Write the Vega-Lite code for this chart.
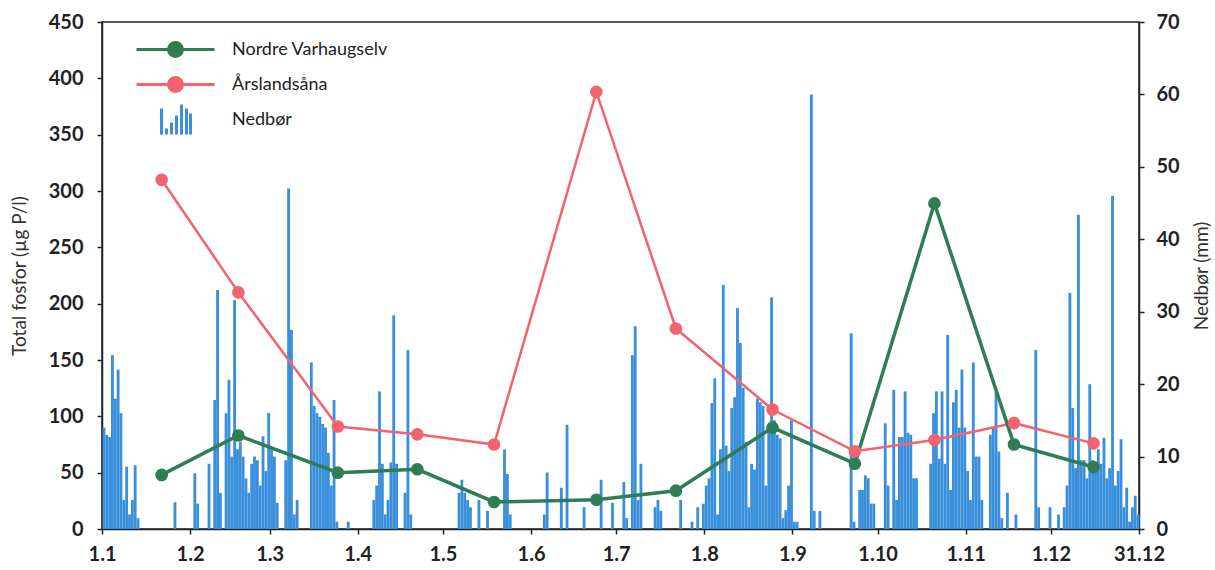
{
  "$schema": "https://vega.github.io/schema/vega-lite/v6.json",
  "width": 1037,
  "height": 507,
  "autosize": {"type": "none"},
  "padding": {"left": 102, "top": 22, "right": 76, "bottom": 41},
  "background": "white",
  "config": {
    "font": "Lato",
    "view": {"stroke": "#222", "strokeWidth": 1.5},
    "axis": {
      "grid": false,
      "domainColor": "#222",
      "domainWidth": 1.5,
      "tickColor": "#222",
      "tickWidth": 1.5,
      "tickSize": 5,
      "labelFont": "Lato",
      "labelFontSize": 20,
      "labelFontWeight": "bold",
      "labelColor": "#222",
      "titleFont": "Lato",
      "titleFontSize": 19,
      "titleFontWeight": "normal",
      "titleColor": "#333"
    },
    "legend": {
      "orient": "none",
      "legendX": 62,
      "legendY": 16,
      "title": null,
      "labelFont": "Lato",
      "labelFontSize": 18,
      "labelColor": "#222",
      "symbolSize": 400,
      "symbolStrokeWidth": 3,
      "labelOffset": 45,
      "rowPadding": -8
    }
  },
  "datasets": {
    "nedbor": [
      {"dato": "2023-01-01", "mm": 14}, {"dato": "2023-01-02", "mm": 13}, {"dato": "2023-01-03", "mm": 12.7},
      {"dato": "2023-01-04", "mm": 24}, {"dato": "2023-01-05", "mm": 18}, {"dato": "2023-01-06", "mm": 22},
      {"dato": "2023-01-07", "mm": 16}, {"dato": "2023-01-08", "mm": 4}, {"dato": "2023-01-09", "mm": 8.6},
      {"dato": "2023-01-10", "mm": 2}, {"dato": "2023-01-11", "mm": 4}, {"dato": "2023-01-12", "mm": 8.8},
      {"dato": "2023-01-13", "mm": 1.5}, {"dato": "2023-01-26", "mm": 3.7},
      {"dato": "2023-02-02", "mm": 7.7}, {"dato": "2023-02-03", "mm": 3.5}, {"dato": "2023-02-07", "mm": 9},
      {"dato": "2023-02-09", "mm": 17.8}, {"dato": "2023-02-10", "mm": 33}, {"dato": "2023-02-11", "mm": 5},
      {"dato": "2023-02-13", "mm": 16}, {"dato": "2023-02-14", "mm": 20.6}, {"dato": "2023-02-15", "mm": 10},
      {"dato": "2023-02-16", "mm": 31.6}, {"dato": "2023-02-17", "mm": 11}, {"dato": "2023-02-18", "mm": 12},
      {"dato": "2023-02-19", "mm": 10}, {"dato": "2023-02-20", "mm": 7}, {"dato": "2023-02-21", "mm": 5},
      {"dato": "2023-02-22", "mm": 9}, {"dato": "2023-02-23", "mm": 10}, {"dato": "2023-02-24", "mm": 9.5},
      {"dato": "2023-02-25", "mm": 6}, {"dato": "2023-02-26", "mm": 12.8}, {"dato": "2023-02-27", "mm": 8},
      {"dato": "2023-02-28", "mm": 16}, {"dato": "2023-03-01", "mm": 11}, {"dato": "2023-03-02", "mm": 10},
      {"dato": "2023-03-03", "mm": 3.6}, {"dato": "2023-03-06", "mm": 9.5}, {"dato": "2023-03-07", "mm": 47},
      {"dato": "2023-03-08", "mm": 27.5}, {"dato": "2023-03-09", "mm": 2}, {"dato": "2023-03-10", "mm": 4},
      {"dato": "2023-03-15", "mm": 23}, {"dato": "2023-03-16", "mm": 17}, {"dato": "2023-03-17", "mm": 16},
      {"dato": "2023-03-18", "mm": 15.5}, {"dato": "2023-03-19", "mm": 14.5}, {"dato": "2023-03-20", "mm": 14},
      {"dato": "2023-03-21", "mm": 10.5}, {"dato": "2023-03-22", "mm": 6}, {"dato": "2023-03-23", "mm": 17.8},
      {"dato": "2023-03-24", "mm": 1}, {"dato": "2023-03-28", "mm": 1},
      {"dato": "2023-04-06", "mm": 4}, {"dato": "2023-04-07", "mm": 6}, {"dato": "2023-04-08", "mm": 19},
      {"dato": "2023-04-09", "mm": 9}, {"dato": "2023-04-10", "mm": 2}, {"dato": "2023-04-11", "mm": 4},
      {"dato": "2023-04-12", "mm": 9.2}, {"dato": "2023-04-13", "mm": 29.5}, {"dato": "2023-04-14", "mm": 9},
      {"dato": "2023-04-17", "mm": 5}, {"dato": "2023-04-18", "mm": 24.7}, {"dato": "2023-04-19", "mm": 2},
      {"dato": "2023-05-06", "mm": 5}, {"dato": "2023-05-07", "mm": 6.8}, {"dato": "2023-05-08", "mm": 5},
      {"dato": "2023-05-09", "mm": 4}, {"dato": "2023-05-10", "mm": 3}, {"dato": "2023-05-13", "mm": 4},
      {"dato": "2023-05-16", "mm": 2.5}, {"dato": "2023-05-22", "mm": 11}, {"dato": "2023-05-23", "mm": 7.6},
      {"dato": "2023-05-24", "mm": 2},
      {"dato": "2023-06-05", "mm": 2}, {"dato": "2023-06-06", "mm": 7.8}, {"dato": "2023-06-11", "mm": 5.7},
      {"dato": "2023-06-13", "mm": 14.4}, {"dato": "2023-06-19", "mm": 3}, {"dato": "2023-06-25", "mm": 6.8},
      {"dato": "2023-06-29", "mm": 3.6},
      {"dato": "2023-07-03", "mm": 6.5}, {"dato": "2023-07-04", "mm": 1.5}, {"dato": "2023-07-06", "mm": 24},
      {"dato": "2023-07-07", "mm": 28}, {"dato": "2023-07-08", "mm": 4}, {"dato": "2023-07-09", "mm": 9},
      {"dato": "2023-07-14", "mm": 3}, {"dato": "2023-07-15", "mm": 4}, {"dato": "2023-07-16", "mm": 2.5},
      {"dato": "2023-07-23", "mm": 4}, {"dato": "2023-07-27", "mm": 1}, {"dato": "2023-07-29", "mm": 3},
      {"dato": "2023-07-31", "mm": 3.5},
      {"dato": "2023-08-01", "mm": 6}, {"dato": "2023-08-02", "mm": 7}, {"dato": "2023-08-03", "mm": 17.4},
      {"dato": "2023-08-04", "mm": 20.8}, {"dato": "2023-08-05", "mm": 2}, {"dato": "2023-08-06", "mm": 11},
      {"dato": "2023-08-07", "mm": 33.7}, {"dato": "2023-08-08", "mm": 11.5}, {"dato": "2023-08-09", "mm": 8},
      {"dato": "2023-08-10", "mm": 16.7}, {"dato": "2023-08-11", "mm": 18.2}, {"dato": "2023-08-12", "mm": 30.5},
      {"dato": "2023-08-13", "mm": 25.7}, {"dato": "2023-08-14", "mm": 19.5}, {"dato": "2023-08-15", "mm": 12},
      {"dato": "2023-08-16", "mm": 3}, {"dato": "2023-08-17", "mm": 9}, {"dato": "2023-08-18", "mm": 8.2},
      {"dato": "2023-08-19", "mm": 18}, {"dato": "2023-08-20", "mm": 17.5}, {"dato": "2023-08-21", "mm": 17},
      {"dato": "2023-08-22", "mm": 6}, {"dato": "2023-08-23", "mm": 14}, {"dato": "2023-08-24", "mm": 32},
      {"dato": "2023-08-25", "mm": 15}, {"dato": "2023-08-26", "mm": 13}, {"dato": "2023-08-27", "mm": 12.5},
      {"dato": "2023-08-28", "mm": 1.5}, {"dato": "2023-08-29", "mm": 2.6}, {"dato": "2023-08-30", "mm": 6},
      {"dato": "2023-08-31", "mm": 15},
      {"dato": "2023-09-01", "mm": 1}, {"dato": "2023-09-02", "mm": 1}, {"dato": "2023-09-07", "mm": 60},
      {"dato": "2023-09-08", "mm": 2.5}, {"dato": "2023-09-10", "mm": 2.5}, {"dato": "2023-09-21", "mm": 27},
      {"dato": "2023-09-22", "mm": 1}, {"dato": "2023-09-24", "mm": 5.4}, {"dato": "2023-09-25", "mm": 5.4},
      {"dato": "2023-09-26", "mm": 7.4}, {"dato": "2023-09-27", "mm": 7}, {"dato": "2023-09-28", "mm": 3.5},
      {"dato": "2023-09-29", "mm": 3.5},
      {"dato": "2023-10-03", "mm": 14.6}, {"dato": "2023-10-04", "mm": 6}, {"dato": "2023-10-06", "mm": 19.2},
      {"dato": "2023-10-07", "mm": 4}, {"dato": "2023-10-08", "mm": 12.7}, {"dato": "2023-10-09", "mm": 12.7},
      {"dato": "2023-10-10", "mm": 19}, {"dato": "2023-10-11", "mm": 13.3}, {"dato": "2023-10-12", "mm": 13},
      {"dato": "2023-10-13", "mm": 7}, {"dato": "2023-10-14", "mm": 7}, {"dato": "2023-10-19", "mm": 9},
      {"dato": "2023-10-20", "mm": 16}, {"dato": "2023-10-21", "mm": 19}, {"dato": "2023-10-22", "mm": 9.7},
      {"dato": "2023-10-23", "mm": 19}, {"dato": "2023-10-24", "mm": 9}, {"dato": "2023-10-25", "mm": 26.8},
      {"dato": "2023-10-26", "mm": 5.4}, {"dato": "2023-10-27", "mm": 17.5}, {"dato": "2023-10-28", "mm": 19.2},
      {"dato": "2023-10-29", "mm": 14}, {"dato": "2023-10-30", "mm": 22}, {"dato": "2023-10-31", "mm": 14},
      {"dato": "2023-11-01", "mm": 8}, {"dato": "2023-11-02", "mm": 4}, {"dato": "2023-11-03", "mm": 23},
      {"dato": "2023-11-04", "mm": 10}, {"dato": "2023-11-05", "mm": 10}, {"dato": "2023-11-06", "mm": 4},
      {"dato": "2023-11-09", "mm": 13}, {"dato": "2023-11-10", "mm": 14}, {"dato": "2023-11-11", "mm": 19},
      {"dato": "2023-11-12", "mm": 10.7}, {"dato": "2023-11-13", "mm": 1.5}, {"dato": "2023-11-15", "mm": 5},
      {"dato": "2023-11-18", "mm": 2}, {"dato": "2023-11-25", "mm": 24.7}, {"dato": "2023-11-26", "mm": 3},
      {"dato": "2023-11-30", "mm": 3},
      {"dato": "2023-12-03", "mm": 2}, {"dato": "2023-12-05", "mm": 3}, {"dato": "2023-12-06", "mm": 6},
      {"dato": "2023-12-07", "mm": 32.6}, {"dato": "2023-12-08", "mm": 16.7}, {"dato": "2023-12-09", "mm": 8.4},
      {"dato": "2023-12-10", "mm": 43.4}, {"dato": "2023-12-11", "mm": 9.5}, {"dato": "2023-12-12", "mm": 9.5},
      {"dato": "2023-12-13", "mm": 7}, {"dato": "2023-12-14", "mm": 20}, {"dato": "2023-12-15", "mm": 9.5},
      {"dato": "2023-12-16", "mm": 8}, {"dato": "2023-12-17", "mm": 11}, {"dato": "2023-12-18", "mm": 9},
      {"dato": "2023-12-19", "mm": 12.6}, {"dato": "2023-12-20", "mm": 7}, {"dato": "2023-12-21", "mm": 8.4},
      {"dato": "2023-12-22", "mm": 46}, {"dato": "2023-12-23", "mm": 6}, {"dato": "2023-12-24", "mm": 8},
      {"dato": "2023-12-25", "mm": 12.4}, {"dato": "2023-12-26", "mm": 3}, {"dato": "2023-12-27", "mm": 5.7},
      {"dato": "2023-12-28", "mm": 1}, {"dato": "2023-12-29", "mm": 3}, {"dato": "2023-12-30", "mm": 4.6},
      {"dato": "2023-12-31", "mm": 2}
    ],
    "fosfor": [
      {"dato": "2023-01-22", "stasjon": "Årslandsåna", "verdi": 310},
      {"dato": "2023-02-18", "stasjon": "Årslandsåna", "verdi": 210},
      {"dato": "2023-03-25", "stasjon": "Årslandsåna", "verdi": 91},
      {"dato": "2023-04-22", "stasjon": "Årslandsåna", "verdi": 84},
      {"dato": "2023-05-19", "stasjon": "Årslandsåna", "verdi": 75},
      {"dato": "2023-06-24", "stasjon": "Årslandsåna", "verdi": 388},
      {"dato": "2023-07-22", "stasjon": "Årslandsåna", "verdi": 178},
      {"dato": "2023-08-25", "stasjon": "Årslandsåna", "verdi": 106},
      {"dato": "2023-09-23", "stasjon": "Årslandsåna", "verdi": 69},
      {"dato": "2023-10-21", "stasjon": "Årslandsåna", "verdi": 79},
      {"dato": "2023-11-18", "stasjon": "Årslandsåna", "verdi": 94},
      {"dato": "2023-12-16", "stasjon": "Årslandsåna", "verdi": 76},
      {"dato": "2023-01-22", "stasjon": "Nordre Varhaugselv", "verdi": 48},
      {"dato": "2023-02-18", "stasjon": "Nordre Varhaugselv", "verdi": 83},
      {"dato": "2023-03-25", "stasjon": "Nordre Varhaugselv", "verdi": 50},
      {"dato": "2023-04-22", "stasjon": "Nordre Varhaugselv", "verdi": 53},
      {"dato": "2023-05-19", "stasjon": "Nordre Varhaugselv", "verdi": 24},
      {"dato": "2023-06-24", "stasjon": "Nordre Varhaugselv", "verdi": 26},
      {"dato": "2023-07-22", "stasjon": "Nordre Varhaugselv", "verdi": 34},
      {"dato": "2023-08-25", "stasjon": "Nordre Varhaugselv", "verdi": 90},
      {"dato": "2023-09-23", "stasjon": "Nordre Varhaugselv", "verdi": 58},
      {"dato": "2023-10-21", "stasjon": "Nordre Varhaugselv", "verdi": 289},
      {"dato": "2023-11-18", "stasjon": "Nordre Varhaugselv", "verdi": 75},
      {"dato": "2023-12-16", "stasjon": "Nordre Varhaugselv", "verdi": 55}
    ]
  },
  "layer": [
    {
      "data": {"name": "nedbor"},
      "mark": {"type": "bar", "timeUnitBandSize": 1, "binSpacing": 0},
      "encoding": {
        "x": {
          "field": "dato",
          "type": "temporal",
          "timeUnit": "utcyearmonthdate",
          "scale": {
            "type": "utc",
            "domain": [
              {"year": 2023, "month": 1, "date": 1, "utc": true},
              {"year": 2024, "month": 1, "date": 1, "utc": true}
            ]
          },
          "axis": {
            "title": null,
            "values": [
              {"year": 2023, "month": 1, "date": 1, "utc": true},
              {"year": 2023, "month": 2, "date": 1, "utc": true},
              {"year": 2023, "month": 3, "date": 1, "utc": true},
              {"year": 2023, "month": 4, "date": 1, "utc": true},
              {"year": 2023, "month": 5, "date": 1, "utc": true},
              {"year": 2023, "month": 6, "date": 1, "utc": true},
              {"year": 2023, "month": 7, "date": 1, "utc": true},
              {"year": 2023, "month": 8, "date": 1, "utc": true},
              {"year": 2023, "month": 9, "date": 1, "utc": true},
              {"year": 2023, "month": 10, "date": 1, "utc": true},
              {"year": 2023, "month": 11, "date": 1, "utc": true},
              {"year": 2023, "month": 12, "date": 1, "utc": true},
              {"year": 2024, "month": 1, "date": 1, "utc": true}
            ],
            "labelExpr": "utcyear(datum.value) == 2024 ? '31.12' : utcFormat(datum.value, '%-d.%-m')",
            "labelPadding": 10,
            "labelFlush": false,
            "labelOverlap": false
          }
        },
        "y": {
          "field": "mm",
          "type": "quantitative",
          "scale": {"domain": [0, 70]},
          "axis": {
            "orient": "right",
            "title": "Nedbør (mm)",
            "titleAngle": -90,
            "titlePadding": 32,
            "values": [0, 10, 20, 30, 40, 50, 60, 70],
            "labelPadding": 12
          }
        },
        "color": {"datum": "Nedbør"}
      }
    },
    {
      "data": {"name": "fosfor"},
      "encoding": {
        "x": {"field": "dato", "type": "temporal", "scale": {"type": "utc"}},
        "y": {
          "field": "verdi",
          "type": "quantitative",
          "scale": {"domain": [0, 450]},
          "axis": {
            "orient": "left",
            "title": "Total fosfor (µg P/l)",
            "titlePadding": 19,
            "values": [0, 50, 100, 150, 200, 250, 300, 350, 400, 450],
            "labelPadding": 14
          }
        },
        "color": {
          "field": "stasjon",
          "type": "nominal",
          "scale": {
            "domain": ["Nordre Varhaugselv", "Årslandsåna", "Nedbør"],
            "range": ["#2f7d55", "#f2626f", "#3a8fdb"]
          },
          "legend": {
            "encode": {
              "symbols": {
                "update": {
                  "shape": {"signal": "datum.value === 'Nedbør' ? 'M-1.4,1.5V-1.1M-0.9,1.5V0.9M-0.4,1.5V0.3M0.1,1.5V-0.4M0.6,1.5V-1.5M1.1,1.5V-1.1M1.5,1.5V-0.6' : 'M0,-1.5ZM0,1.5ZM-3.9,0H-0.7M0.7,0H3.9M-0.7,0A0.7,0.7 0 1,1 0.7,0A0.7,0.7 0 1,1 -0.7,0Z'"},
                  "fill": {"scale": "color", "field": "value"},
                  "stroke": {"scale": "color", "field": "value"},
                  "strokeWidth": {"value": 3},
                  "opacity": {"value": 1}
                }
              }
            }
          }
        }
      },
      "layer": [
        {
          "mark": {"type": "line"},
          "encoding": {
            "strokeWidth": {
              "field": "stasjon",
              "type": "nominal",
              "scale": {"domain": ["Nordre Varhaugselv", "Årslandsåna"], "range": [3.5, 2.5]},
              "legend": null
            }
          }
        },
        {
          "mark": {"type": "point", "filled": true, "opacity": 1, "size": 160}
        }
      ]
    }
  ],
  "resolve": {"scale": {"y": "independent"}}
}
